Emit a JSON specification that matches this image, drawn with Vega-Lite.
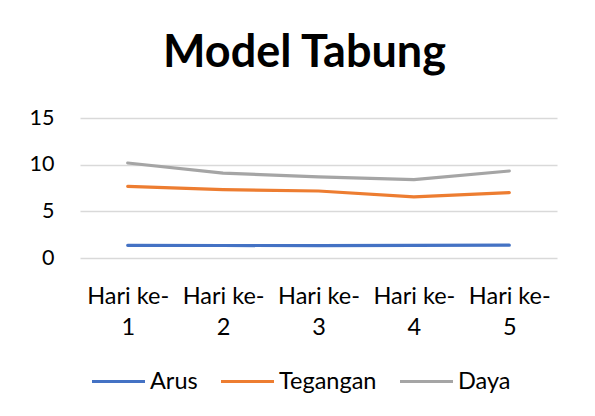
{
  "$schema": "https://vega.github.io/schema/vega-lite/v6.json",
  "autosize": "none",
  "width": 477,
  "height": 140,
  "padding": {"left": 80, "top": 118, "right": 38, "bottom": 158},
  "background": "white",
  "title": {
    "text": "Model Tabung",
    "anchor": "middle",
    "frame": "group",
    "font": "Lato",
    "fontSize": 45,
    "fontWeight": "bold",
    "color": "#000000",
    "baseline": "alphabetic",
    "offset": -5,
    "dx": -14
  },
  "data": {
    "values": [
      {"hari": "Hari ke-1", "seri": "Arus", "nilai": 1.36},
      {"hari": "Hari ke-2", "seri": "Arus", "nilai": 1.34},
      {"hari": "Hari ke-3", "seri": "Arus", "nilai": 1.33},
      {"hari": "Hari ke-4", "seri": "Arus", "nilai": 1.35},
      {"hari": "Hari ke-5", "seri": "Arus", "nilai": 1.37},
      {"hari": "Hari ke-1", "seri": "Tegangan", "nilai": 7.68},
      {"hari": "Hari ke-2", "seri": "Tegangan", "nilai": 7.32},
      {"hari": "Hari ke-3", "seri": "Tegangan", "nilai": 7.18},
      {"hari": "Hari ke-4", "seri": "Tegangan", "nilai": 6.54},
      {"hari": "Hari ke-5", "seri": "Tegangan", "nilai": 7.0},
      {"hari": "Hari ke-1", "seri": "Daya", "nilai": 10.18},
      {"hari": "Hari ke-2", "seri": "Daya", "nilai": 9.1},
      {"hari": "Hari ke-3", "seri": "Daya", "nilai": 8.7},
      {"hari": "Hari ke-4", "seri": "Daya", "nilai": 8.39},
      {"hari": "Hari ke-5", "seri": "Daya", "nilai": 9.32}
    ]
  },
  "mark": {"type": "line", "strokeWidth": 3.2, "strokeCap": "round", "strokeJoin": "round"},
  "encoding": {
    "x": {
      "field": "hari",
      "type": "ordinal",
      "sort": null,
      "scale": {"padding": 0.5},
      "axis": {
        "title": null,
        "domain": false,
        "ticks": false,
        "grid": false,
        "labelAngle": 0,
        "labelFont": "Lato",
        "labelFontSize": 23.5,
        "labelColor": "#000000",
        "labelPadding": 26,
        "labelLineHeight": 31,
        "labelExpr": "['Hari ke-', substring(datum.label, 8)]"
      }
    },
    "y": {
      "field": "nilai",
      "type": "quantitative",
      "scale": {"domain": [0, 15], "nice": false, "zero": true},
      "axis": {
        "title": null,
        "values": [0, 5, 10, 15],
        "domain": false,
        "ticks": false,
        "grid": true,
        "gridColor": "#D9D9D9",
        "gridWidth": 1.3,
        "labelFont": "Lato",
        "labelFontSize": 21.5,
        "labelColor": "#000000",
        "labelPadding": 26
      }
    },
    "color": {
      "field": "seri",
      "type": "nominal",
      "scale": {"domain": ["Arus", "Tegangan", "Daya"], "range": ["#4472C4", "#ED7D31", "#A5A5A5"]},
      "legend": {
        "title": null,
        "orient": "none",
        "direction": "horizontal",
        "legendX": 10,
        "legendY": 235,
        "symbolType": "stroke",
        "symbolSize": 2809,
        "symbolStrokeWidth": 3.2,
        "labelFont": "Lato",
        "labelFontSize": 23.5,
        "labelColor": "#000000",
        "labelOffset": 3,
        "columnPadding": 16
      }
    }
  },
  "config": {"view": {"stroke": null}}
}
